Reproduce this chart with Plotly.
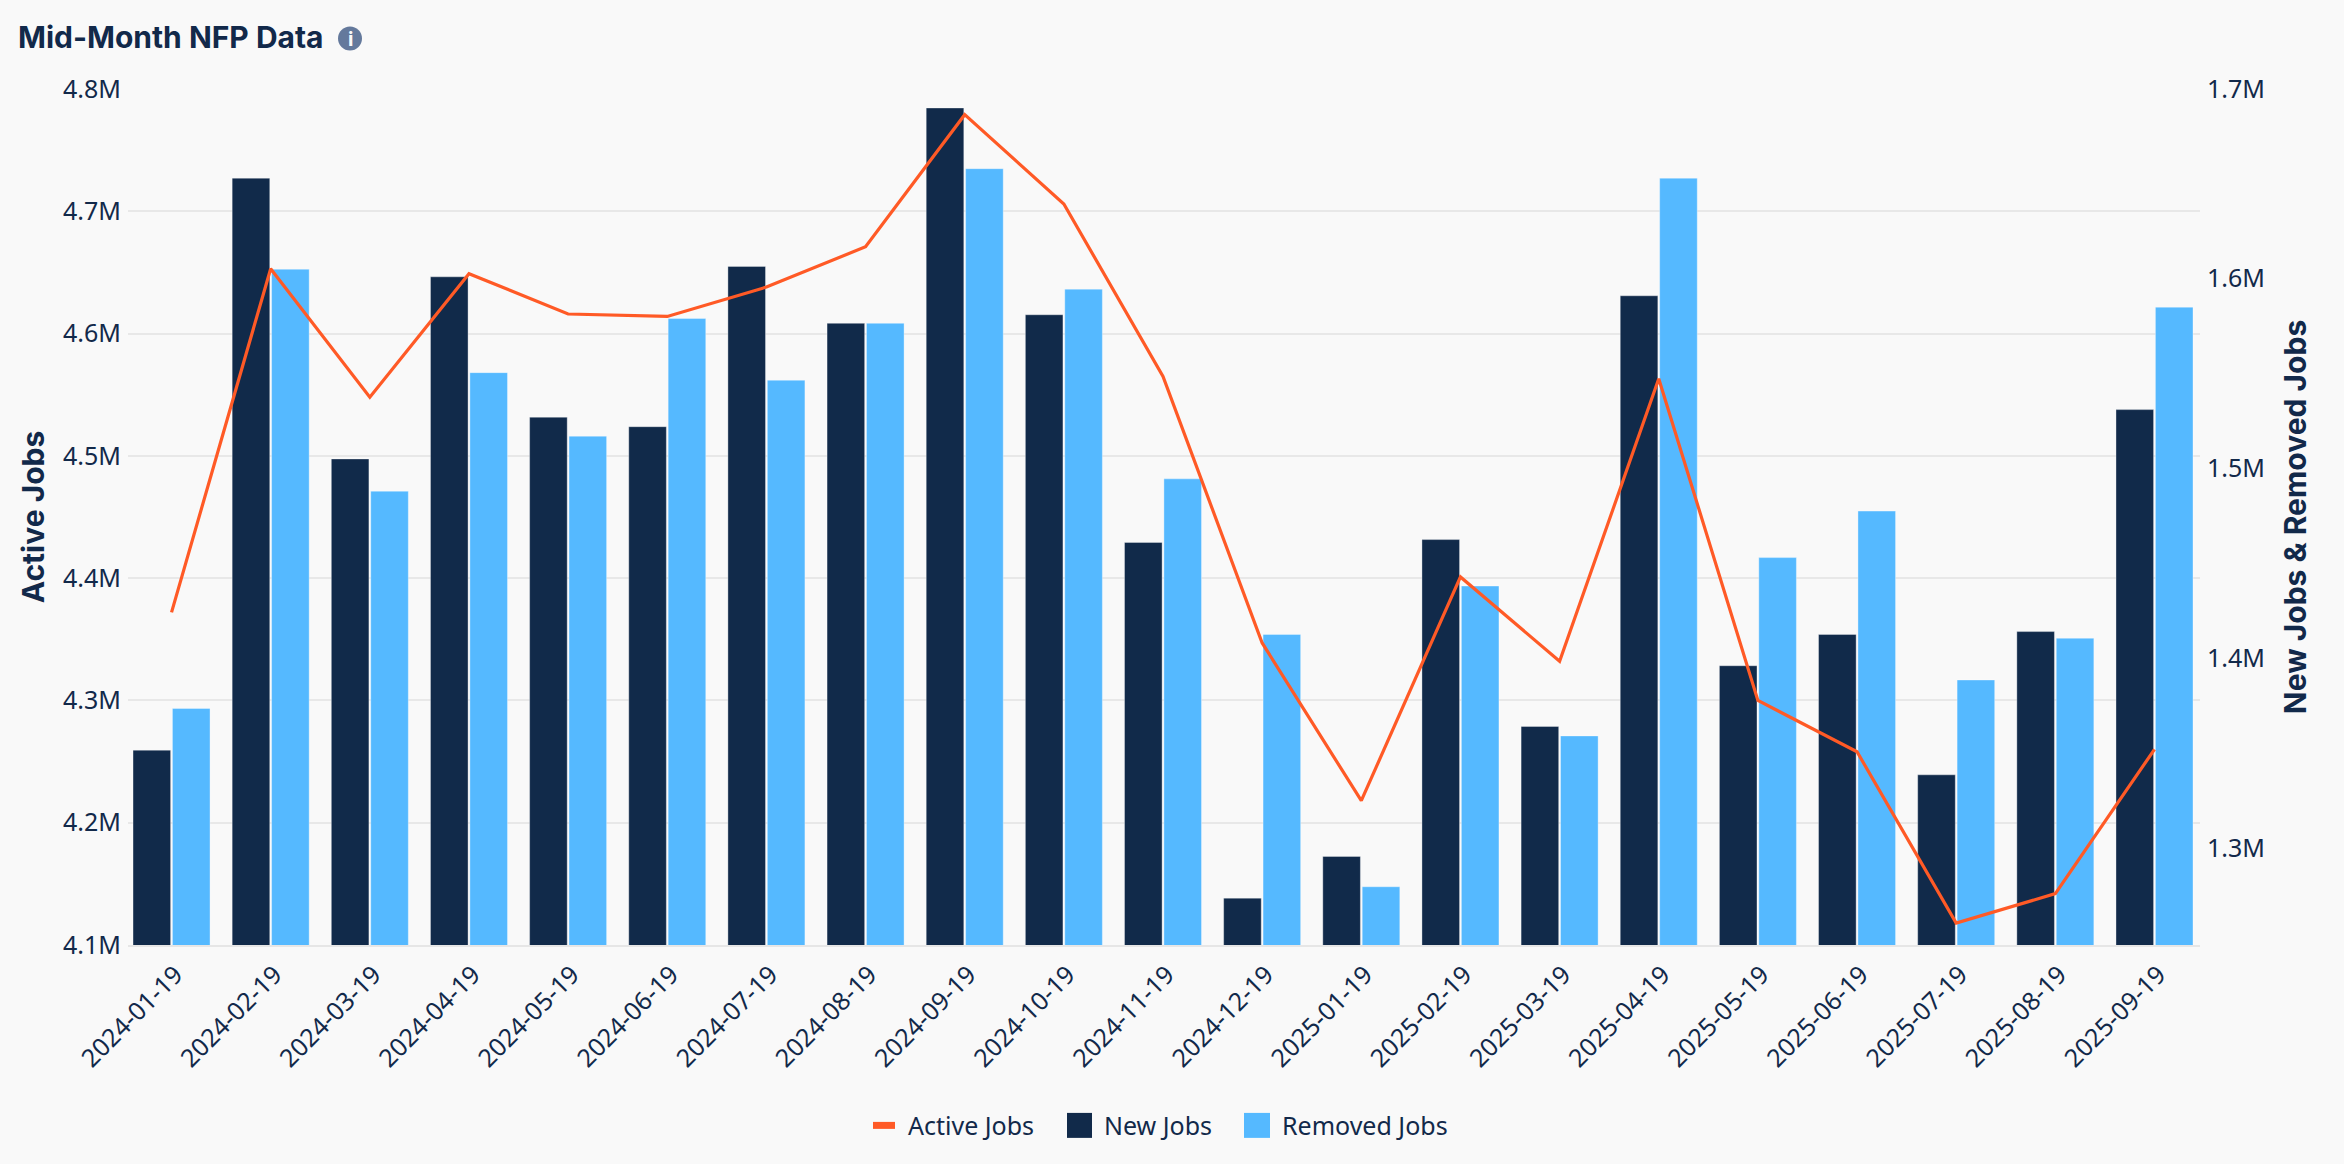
import plotly.graph_objects as go

dates = ["2024-01-19","2024-02-19","2024-03-19","2024-04-19","2024-05-19","2024-06-19","2024-07-19",
         "2024-08-19","2024-09-19","2024-10-19","2024-11-19","2024-12-19","2025-01-19","2025-02-19",
         "2025-03-19","2025-04-19","2025-05-19","2025-06-19","2025-07-19","2025-08-19","2025-09-19"]
new_jobs = [1.3515,1.653,1.505,1.601,1.527,1.522,1.6065,1.5765,1.690,1.581,1.461,1.2735,1.2955,1.4625,1.364,1.591,1.396,1.4125,1.3385,1.414,1.531]
removed_jobs = [1.3735,1.605,1.488,1.5505,1.517,1.579,1.5465,1.5765,1.658,1.5945,1.4945,1.4125,1.2795,1.438,1.359,1.653,1.453,1.4775,1.3885,1.4105,1.585]
active_jobs = [4.372,4.653,4.548,4.649,4.616,4.614,4.638,4.671,4.779,4.706,4.565,4.347,4.218,4.401,4.332,4.563,4.300,4.258,4.118,4.142,4.260]
left_ticks = [4.1,4.2,4.3,4.4,4.5,4.6,4.7,4.8]
right_ticks = [1.3,1.4,1.5,1.6,1.7]

INK = "#12294a"
DARK = "#112a4a"
BLUE = "#55b9ff"
ORANGE = "#ff5a26"
BG = "#f9f9f9"
W, H = 2344, 1164
L, R, T, B = 128, 2200, 88.5, 945
TICK = dict(family="Noto Sans", size=25, color=INK)
HEAD = dict(family="Inter", size=30, color=INK, weight=700)

def px(x):
    return (x - L) / (R - L)
def py(y):
    return (B - y) / (B - T)

fig = go.Figure()
fig.add_bar(x=dates, y=[v*1e6 for v in new_jobs], name="New Jobs", marker=dict(color=DARK, line=dict(color="rgba(255,255,255,0.35)", width=1)), yaxis="y")
fig.add_bar(x=dates, y=[v*1e6 for v in removed_jobs], name="Removed Jobs", marker=dict(color=BLUE, line=dict(color="rgba(255,255,255,0.35)", width=1)), yaxis="y")
fig.add_scatter(x=dates, y=[v*1e6 for v in active_jobs], name="Active Jobs", mode="lines", line=dict(color=ORANGE, width=3.2), yaxis="y2")

def swatch(x0, x1, y0, y1, color):
    return dict(type="rect", xref="paper", yref="paper", x0=px(x0), x1=px(x1), y0=py(y1), y1=py(y0), fillcolor=color, line=dict(width=0))
def label(text, x):
    return dict(text=text, xref="paper", yref="paper", x=px(x), y=py(1125), showarrow=False, font=TICK, xanchor="left", yanchor="middle", xshift=-3)

fig.update_layout(
    width=W, height=H, autosize=False, showlegend=False,
    margin=dict(l=L, r=W-R, t=T, b=H-B, pad=0),
    paper_bgcolor=BG, plot_bgcolor=BG,
    barmode="group", bargap=0.205, bargroupgap=0.046,
    title=dict(text="Mid-Month NFP Data", xref="container", yref="container", x=18/W, y=1-37/H, xanchor="left", yanchor="middle", font=HEAD),
    xaxis=dict(type="category", categoryorder="array", categoryarray=dates, range=[-0.439,20.459],
               tickangle=-45, tickfont=TICK, showgrid=False, showline=True, linecolor="#e6e6e6", linewidth=2, ticks="", ticklen=0, tickvals=dates, ticktext=dates,
               ticklabelshift=4, ticklabelstandoff=3),
    yaxis=dict(side="right", range=[1.2488e6,1.7e6], tickvals=[v*1e6 for v in right_ticks], ticktext=[f"{v:.1f}M" for v in right_ticks],
               tickfont=TICK, showgrid=False, zeroline=False, ticks="outside", ticklen=1, tickcolor="rgba(0,0,0,0)",
               title=dict(text="New Jobs &amp; Removed Jobs", font=HEAD, standoff=21)),
    yaxis2=dict(side="left", overlaying="y", range=[4.1e6,4.8e6], tickvals=[v*1e6 for v in left_ticks], ticktext=[f"{v:.1f}M" for v in left_ticks],
                tickfont=TICK, showgrid=True, gridcolor="#e8e8e8", gridwidth=2, zeroline=False, ticks="outside", ticklen=1, tickcolor="rgba(0,0,0,0)",
                title=dict(text="Active Jobs", font=HEAD, standoff=9)),
    shapes=[dict(type="circle", xref="paper", yref="paper", x0=px(338), x1=px(362), y0=py(50), y1=py(26), fillcolor="#64799c", line=dict(width=0)),
            swatch(873, 895, 1122, 1129, ORANGE), swatch(1067, 1092, 1113, 1138, DARK), swatch(1244, 1270, 1113, 1138, BLUE)],
    annotations=[dict(text="<b>i</b>", xref="paper", yref="paper", x=px(350), y=py(38), showarrow=False,
                      font=dict(family="Inter", size=20, color=BG), xanchor="center", yanchor="middle"),
                 label("Active Jobs", 909), label("New Jobs", 1105), label("Removed Jobs", 1283)],
)
fig.write_html("out.html", config=dict(displayModeBar=False),
               post_script="document.body.style.margin='0';document.body.style.overflow='hidden';document.body.style.background='#f9f9f9';")
